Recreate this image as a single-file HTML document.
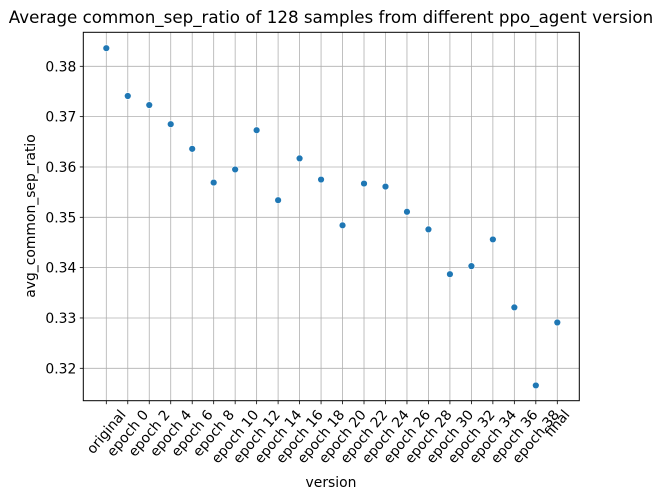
<!DOCTYPE html>
<html><head><meta charset="utf-8"><style>
body{margin:0;background:#fff;}
svg{display:block;font-family:"DejaVu Sans","Liberation Sans",sans-serif;}
</style></head><body>
<svg id="chart" width="662" height="499">
<text x="331" y="23" text-anchor="middle" font-size="16.7" fill="#000">Average common_sep_ratio of 128 samples from different ppo_agent version</text>
<g id="grid"></g>
<g id="points"></g>
<rect x="83.3" y="32.3" width="496" height="368.4" fill="none" stroke="#000" stroke-width="1"/>
<g id="xticks"></g>
<g id="yticks"></g>
<text x="331" y="487" text-anchor="middle" font-size="13.9">version</text>
<text transform="translate(35,216) rotate(-90)" text-anchor="middle" font-size="13.9">avg_common_sep_ratio</text>
</svg>
<script>
const categories = ["original","epoch 0","epoch 2","epoch 4","epoch 6","epoch 8","epoch 10","epoch 12","epoch 14","epoch 16","epoch 18","epoch 20","epoch 22","epoch 24","epoch 26","epoch 28","epoch 30","epoch 32","epoch 34","epoch 36","epoch 38","final"];
const values = [0.3836,0.3741,0.3723,0.3685,0.3636,0.3569,0.3595,0.3673,0.3534,0.3617,0.3575,0.3484,0.3567,0.3561,0.3511,0.3476,0.3387,0.3403,0.3456,0.3321,0.3166,0.3291];
const yTicks = [0.32,0.33,0.34,0.35,0.36,0.37,0.38];
const yTickLabels = ["0.32","0.33","0.34","0.35","0.36","0.37","0.38"];

const NS="http://www.w3.org/2000/svg";
const L=83.3,R=579.3,T=32.3,B=400.7;
const x0=106.3,x1=557.3;
function xs(i){return x0+(x1-x0)*i/(categories.length-1);}
function ys(v){return 66.3+(0.38-v)*(368.3-66.3)/0.06;}
function mk(tag,attrs,parent){const e=document.createElementNS(NS,tag);for(const k in attrs)e.setAttribute(k,attrs[k]);parent.appendChild(e);return e;}
const grid=document.getElementById('grid'),pts=document.getElementById('points'),xt=document.getElementById('xticks'),yt=document.getElementById('yticks');
const ang=50*Math.PI/180;
categories.forEach((c,i)=>{
  const x=xs(i);
  const g=mk('line',{x1:x,x2:x,y1:T,y2:B,stroke:'#b0b0b0','stroke-width':0.8},grid);
  
  
  const t=mk('line',{x1:x,x2:x,y1:B,y2:B+3.5,stroke:'#000','stroke-width':0.8},xt);
  
  
  const lb=mk('text',{x:0,y:4.5,'text-anchor':'middle','font-size':13.9},xt);
  lb.textContent=c;
  
  
  const w=lb.getComputedTextLength();
  const h=13.5;
  const bh=w*Math.sin(ang)+h*Math.cos(ang);
  lb.setAttribute('transform',`translate(${x},${B+7+bh/2}) rotate(-50)`);
});
yTicks.forEach((v,i)=>{
  const y=ys(v);
  const g=mk('line',{x1:L,x2:R,y1:y,y2:y,stroke:'#b0b0b0','stroke-width':0.8},grid);
  
  
  const t=mk('line',{x1:L-3.5,x2:L,y1:y,y2:y,stroke:'#000','stroke-width':0.8},yt);
  
  
  const lb=mk('text',{x:L-7,y:y+5,'text-anchor':'end','font-size':13.9},yt);
  lb.textContent=yTickLabels[i];
  
  
});
values.forEach((v,i)=>{
  const p=mk('circle',{cx:xs(i),cy:ys(v),r:3.4,fill:'#1f77b4',stroke:'#fff','stroke-width':0.6},pts);
  
  
});
</script>
</body></html>
